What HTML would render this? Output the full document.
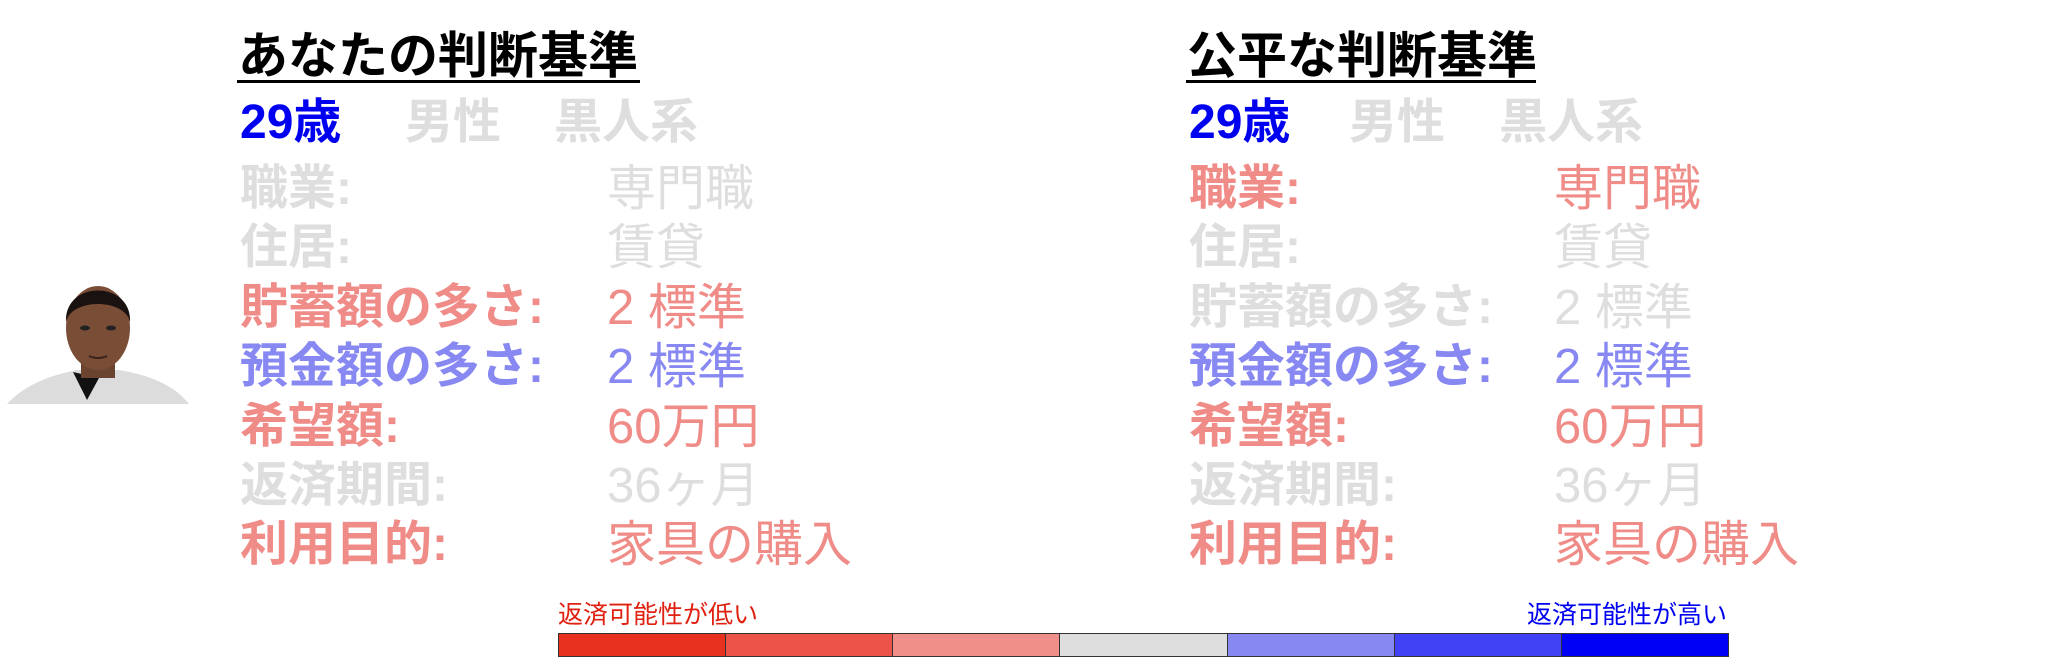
<!DOCTYPE html>
<html><head><meta charset="utf-8">
<style>
html,body{margin:0;padding:0;background:#fff;}
#root{position:relative;width:2048px;height:666px;overflow:hidden;font-family:"Liberation Sans","Noto Sans CJK JP",sans-serif;}
.t{position:absolute;white-space:nowrap;transform-origin:0 50%;line-height:1;}
.title{font-size:50px;font-weight:700;color:#000;}
.big{font-size:48px;}
.v{font-size:49px;font-weight:400;}
.b{font-weight:700;}
.g{color:#dedede;}.p{color:#f08c88;}.l{color:#8888f2;}.bl{color:#0000f0;}
.ul{position:absolute;height:3px;background:#000;}
.cb{position:absolute;height:24px;box-sizing:border-box;border:1px solid #333;}
</style></head><body>
<div id="root">
<svg style="position:absolute;left:7px;top:282px" width="182" height="122" viewBox="0 0 182 122">
<path d="M0 122 C20 100 50 92 70 88 L112 88 C135 92 165 100 182 122 Z" fill="#dcdcdc"/>
<path d="M66 90 L80 118 L92 96 Z" fill="#111"/>
<rect x="74" y="68" width="34" height="28" fill="#6b4430"/>
<ellipse cx="91" cy="46" rx="32" ry="42" fill="#7a4e36"/>
<path d="M59 40 C57 -2 125 -2 123 40 C118 16 64 16 59 40Z" fill="#1a1210"/>
<ellipse cx="78" cy="46" rx="5" ry="2.5" fill="#222"/><ellipse cx="104" cy="46" rx="5" ry="2.5" fill="#222"/>
<path d="M82 74 Q91 78 100 74" stroke="#3a2218" stroke-width="2" fill="none"/>
</svg>

<div class="t title" style="left:238px;top:31px">あなたの判断基準</div>
<div class="ul" style="left:237px;top:80px;width:403px"></div>
<div class="t big b bl" style="left:240px;top:99px">29歳</div>
<div class="t big b g" style="left:405px;top:99px">男性</div>
<div class="t big b g" style="left:554px;top:99px">黒人系</div>

<div class="t title" style="left:1187px;top:31px">公平な判断基準</div>
<div class="ul" style="left:1186px;top:80px;width:350px"></div>
<div class="t big b bl" style="left:1189px;top:99px">29歳</div>
<div class="t big b g" style="left:1349px;top:99px">男性</div>
<div class="t big b g" style="left:1499px;top:99px">黒人系</div>

<div class="t" style="left:558px;top:603px;font-size:25px;color:#e02010">返済可能性が低い</div>
<div class="t" style="left:1527px;top:603px;font-size:25px;color:#0000f0">返済可能性が高い</div>
</div>
<script>
const labels=["職業:","住居:","貯蓄額の多さ:","預金額の多さ:","希望額:","返済期間:","利用目的:"];
const values=["専門職","賃貸","2 標準","2 標準","60万円","36ヶ月","家具の購入"];
const leftColors=["g","g","p","l","p","g","p"];
const rightColors=["p","g","g","l","p","g","p"];
const barColors=["#e8321f","#ed5449","#f08f8a","#dedede","#8888f3","#4040f4","#0000f4"];
const root=document.getElementById('root');
function add(cls,txt,x,y){const d=document.createElement('div');d.className='t '+cls;d.textContent=txt;d.style.left=x+'px';d.style.top=y+'px';root.appendChild(d);return d;}
labels.forEach((lab,i)=>{
 const y=165+i*59.4;
 let e=add('big b '+leftColors[i],lab,240,y);
 
 
 e=add('v '+leftColors[i],values[i],607,y);
 
 
 e=add('big b '+rightColors[i],lab,1189,y);
 
 
 e=add('v '+rightColors[i],values[i],1554,y);
 
 
});
const x0=558,w=1170/barColors.length;
barColors.forEach((c,i)=>{
 const d=document.createElement('div');d.className='cb';
 d.style.left=(x0+i*w)+'px';d.style.top='633px';d.style.width=(w+1)+'px';d.style.background=c;
 
 
 root.appendChild(d);
});
</script>
</body></html>
